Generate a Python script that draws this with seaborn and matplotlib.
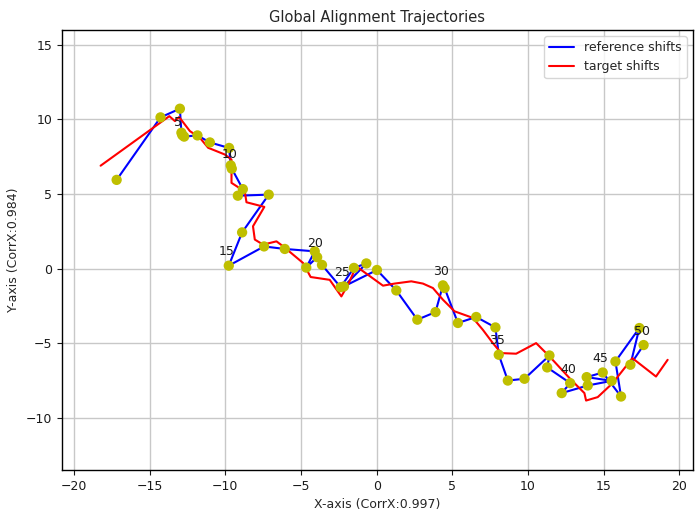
import numpy as np
import pandas as pd
import matplotlib
matplotlib.use("Agg")
import matplotlib.pyplot as plt
import seaborn as sns

# reference trajectory (blue line, yellow markers)
ref_x = [-17.18, -14.28, -13.0, -12.9, -12.84, -12.72, -11.84, -11.02, -9.75, -9.64,
         -9.57, -8.84, -9.17, -7.13, -8.89, -9.77, -7.44, -6.07, -4.09, -4.65,
         -3.93, -3.61, -2.38, -1.5, -0.68, -2.16, 0.02, 1.3, 2.69, 3.89,
         4.38, 4.49, 5.37, 6.58, 7.85, 8.07, 8.67, 9.77, 11.42, 11.27,
         12.79, 12.23, 13.95, 15.53, 13.88, 14.94, 16.15, 15.78, 17.36, 16.77,
         17.64]
ref_y = [5.95, 10.14, 10.72, 9.11, 8.95, 8.85, 8.93, 8.46, 8.09, 6.92,
         6.7, 5.33, 4.89, 4.96, 2.43, 0.2, 1.49, 1.32, 1.16, 0.07,
         0.77, 0.25, -1.24, 0.05, 0.35, -1.19, -0.09, -1.46, -3.42, -2.91,
         -1.12, -1.3, -3.64, -3.24, -3.94, -5.77, -7.5, -7.38, -5.82, -6.62,
         -7.67, -8.34, -7.83, -7.52, -7.27, -6.96, -8.57, -6.22, -3.98, -6.44,
         -5.12]

# target trajectory (red line)
tgt_x = [-18.24, -13.7, -13.33, -13.05, -12.34, -11.68, -11.13, -10.03, -9.59, -9.59,
         -9.15, -8.71, -8.6, -7.42, -8.17, -8.05, -7.5, -6.62, -6.18, -4.86,
         -4.36, -3.1, -2.33, -1.89, -1.34, 0.42, 1.19, 2.29, 3.06, 3.72,
         4.38, 5.15, 6.36, 7.02, 7.68, 8.23, 9.22, 10.54, 11.42, 12.85,
         13.73, 13.84, 14.61, 15.6, 16.9, 18.46, 19.23]
tgt_y = [6.9, 10.22, 9.89, 10.16, 9.22, 8.77, 8.1, 7.65, 7.31, 5.75,
         5.46, 5.15, 4.45, 4.14, 2.84, 1.95, 1.61, 1.83, 1.5, 0.38,
         -0.56, -0.75, -1.86, -1.07, 0.15, -1.14, -1.0, -0.85, -1.0, -1.3,
         -2.08, -2.86, -3.3, -4.1, -4.99, -5.66, -5.7, -4.99, -5.88, -7.45,
         -8.34, -8.84, -8.61, -7.67, -6.0, -7.23, -6.11]

label_step = 5
title = "Global Alignment Trajectories"
x_label = "X-axis (CorrX:0.997)"
y_label = "Y-axis (CorrX:0.984)"

ref_df = pd.DataFrame({"x": ref_x, "y": ref_y})
tgt_df = pd.DataFrame({"x": tgt_x, "y": tgt_y})

sns.set_style("ticks")
plt.rcParams["font.family"] = ["DejaVu Sans"]

fig = plt.figure(figsize=(6.95, 5.16), dpi=100)
ax = fig.add_axes([0.089, 0.089, 0.908, 0.853])

sns.lineplot(data=ref_df, x="x", y="y", sort=False, estimator=None, color="blue",
             linewidth=1.5, label="reference shifts", ax=ax)
sns.lineplot(data=tgt_df, x="x", y="y", sort=False, estimator=None, color="red",
             linewidth=1.5, label="target shifts", ax=ax)
sns.scatterplot(data=ref_df, x="x", y="y", color="y", s=55, edgecolor="none",
                ax=ax, zorder=3, legend=False)

for i in range(label_step, len(ref_x), label_step):
    ax.annotate(str(i), (ref_x[i], ref_y[i]), textcoords="offset points",
                xytext=(-7.2, 10), ha="left", va="center", fontsize=9,
                color="#1a1a1a")

ax.set_xlim(-20.8, 20.9)
ax.set_ylim(-13.5, 16.0)
ax.set_xticks(np.arange(-20, 21, 5))
ax.set_yticks(np.arange(-10, 16, 5))
ax.grid(True, color="#c8c8c8", linewidth=1.0)
ax.set_axisbelow(True)
for s in ax.spines.values():
    s.set_color("black")
    s.set_linewidth(1.0)
ax.tick_params(labelsize=9, colors="#1a1a1a", length=3.5)
ax.set_title(title, fontsize=10.5)
ax.set_xlabel(x_label, fontsize=9)
ax.set_ylabel(y_label, fontsize=9)
ax.legend(loc="upper right", fontsize=9, frameon=True)

fig.savefig("out.png", dpi=100)
